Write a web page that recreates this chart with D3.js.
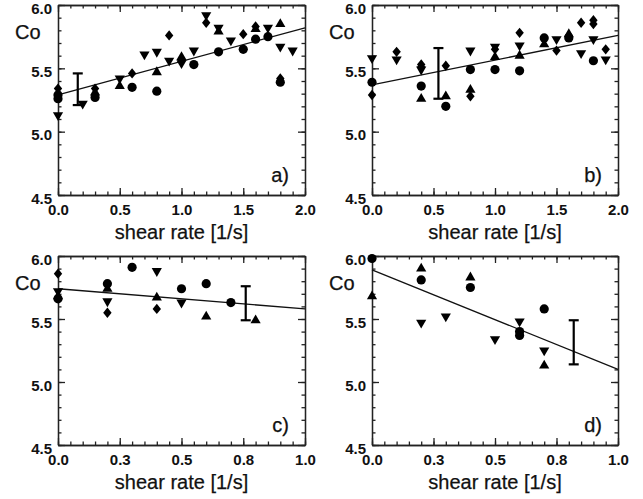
<!DOCTYPE html>
<html lang="en">
<head>
  <meta charset="UTF-8">
  <title>Co vs shear rate</title>
  <script src="https://d3js.org/d3.v7.min.js"></script>
  <style>
    body { margin: 0; background: #fff; }
    svg { display: block; }
    .axis path, .axis line { stroke: #222; stroke-width: 1.3; }
    .axis text { font-family: "Liberation Sans", Arial, sans-serif; font-size: 15px; font-weight: bold; fill: #111; }
    .lbl { font-family: "Liberation Sans", Arial, sans-serif; font-size: 20px; fill: #111; stroke: #111; stroke-width: 0.25; }
  </style>
</head>
<body>
  <svg width="643" height="499"></svg>
  <script>
    // ---- data ----
    const aCircle = [[0,5.29],[0,5.26],[0.3,5.27],[0.6,5.35],[0.8,5.32],[1.1,5.53],[1.3,5.63],[1.5,5.65],[1.6,5.73],[1.7,5.75],[1.8,5.39]];
    const aDiamond = [[0,5.34],[0.3,5.34],[0.6,5.46],[0.9,5.76],[1.0,5.56],[1.2,5.86],[1.5,5.77],[1.6,5.83],[1.8,5.42]];
    const aTriUp = [[0.3,5.31],[0.5,5.36],[0.8,5.47],[1.0,5.59],[1.3,5.79],[1.6,5.81],[1.8,5.85]];
    const aTriDown = [[0,5.13],[0.2,5.22],[0.5,5.42],[0.7,5.61],[0.8,5.63],[0.9,5.56],[1.0,5.54],[1.1,5.64],[1.2,5.92],[1.3,5.82],[1.4,5.72],[1.7,5.82],[1.8,5.67],[1.9,5.64]];
    const aErr = [0.16, 5.21, 5.46];
    const aFit = [[0,5.29],[2,5.82]];

    const bCircle = [[0,5.39],[0.4,5.36],[0.6,5.20],[0.8,5.49],[1.0,5.49],[1.2,5.48],[1.4,5.74],[1.6,5.74],[1.8,5.56]];
    const bDiamond = [[0,5.29],[0.2,5.63],[0.4,5.53],[0.4,5.51],[0.6,5.52],[0.8,5.28],[1.0,5.65],[1.2,5.78],[1.5,5.64],[1.6,5.76],[1.7,5.86],[1.8,5.88],[1.8,5.85],[1.9,5.65]];
    const bTriUp = [[0.4,5.26],[0.6,5.28],[0.8,5.33],[1.0,5.59],[1.2,5.60],[1.4,5.69],[1.6,5.77]];
    const bTriDown = [[0,5.58],[0.2,5.57],[0.4,5.49],[0.8,5.64],[1.0,5.67],[1.2,5.68],[1.5,5.73],[1.7,5.62],[1.8,5.73],[1.9,5.57]];
    const bErr = [0.54, 5.26, 5.66];
    const bFit = [[0,5.37],[2,5.76]];

    const cCircle = [[0,5.66],[0.2,5.78],[0.3,5.91],[0.5,5.74],[0.6,5.78],[0.7,5.63]];
    const cDiamond = [[0,5.86],[0.2,5.55],[0.4,5.58]];
    const cTriUp = [[0,5.68],[0.2,5.74],[0.4,5.67],[0.6,5.52],[0.8,5.49]];
    const cTriDown = [[0,5.72],[0.2,5.64],[0.4,5.88],[0.5,5.63]];
    const cErr = [0.76, 5.49, 5.76];
    const cFit = [[0,5.74],[1,5.58]];

    const dCircle = [[0,5.98],[0.2,5.81],[0.4,5.75],[0.6,5.40],[0.6,5.37],[0.7,5.58]];
    const dDiamond = [];
    const dTriUp = [[0,5.68],[0.2,5.90],[0.4,5.83],[0.7,5.13]];
    const dTriDown = [[0.2,5.47],[0.3,5.52],[0.5,5.34],[0.6,5.48],[0.7,5.25]];
    const dErr = [0.82, 5.14, 5.49];
    const dFit = [[0,5.89],[1,5.10]];

    const yTicks = [4.5, 5.0, 5.5, 6.0];
    const xTicksWide = [0, 0.5, 1.0, 1.5, 2.0];
    const xTicksNarrow = [0, 0.25, 0.5, 0.75, 1.0];

    const svg = d3.select("svg");

    // marker shapes
    const shapes = {
      circle: "M4.6,0A4.6,4.6,0,1,1,-4.6,0A4.6,4.6,0,1,1,4.6,0Z",
      diamond: "M0,-5.2L4.2,0L0,5.2L-4.2,0Z",
      up: "M0,-5.8L5.1,3L-5.1,3Z",
      down: "M0,5.8L5.1,-3L-5.1,-3Z"
    };

    function drawPanel(p) {
      const x = d3.scaleLinear().domain([0, p.xmax]).range([p.left, p.right]);
      const y = d3.scaleLinear().domain([4.5, 6.0]).range([p.bottom, p.top]);
      const g = svg.append("g");

      const xMinor = d3.range(0, p.xmax + 1e-9, p.xminor);
      const yMinor = d3.range(4.5, 6.0001, 0.1);

      // minor ticks on all four sides
      g.append("g").attr("class", "axis").attr("transform", `translate(0,${p.bottom})`)
        .call(d3.axisBottom(x).tickValues(xMinor).tickSize(-3.5).tickSizeOuter(0).tickFormat(""));
      g.append("g").attr("class", "axis").attr("transform", `translate(0,${p.top})`)
        .call(d3.axisTop(x).tickValues(xMinor).tickSize(-3.5).tickSizeOuter(0).tickFormat(""));
      g.append("g").attr("class", "axis").attr("transform", `translate(${p.left},0)`)
        .call(d3.axisLeft(y).tickValues(yMinor).tickSize(-3.5).tickSizeOuter(0).tickFormat(""));
      g.append("g").attr("class", "axis").attr("transform", `translate(${p.right},0)`)
        .call(d3.axisRight(y).tickValues(yMinor).tickSize(-3.5).tickSizeOuter(0).tickFormat(""));

      // major ticks + labels
      g.append("g").attr("class", "axis").attr("transform", `translate(0,${p.bottom})`)
        .call(d3.axisBottom(x).tickValues(p.xticks).tickSize(-7).tickSizeOuter(0).tickPadding(9)
          .tickFormat(d3.format(".1f")));
      g.append("g").attr("class", "axis").attr("transform", `translate(0,${p.top})`)
        .call(d3.axisTop(x).tickValues(p.xticks).tickSize(-7).tickSizeOuter(0).tickFormat(""));
      g.append("g").attr("class", "axis").attr("transform", `translate(${p.left},0)`)
        .call(d3.axisLeft(y).tickValues(yTicks).tickSize(-7).tickSizeOuter(0).tickPadding(6)
          .tickFormat(d3.format(".1f")))
        .selectAll("text").attr("dy", "0.55em");
      g.append("g").attr("class", "axis").attr("transform", `translate(${p.right},0)`)
        .call(d3.axisRight(y).tickValues(yTicks).tickSize(-7).tickSizeOuter(0).tickFormat(""));

      // fit line
      g.append("path")
        .datum(p.fit)
        .attr("fill", "none").attr("stroke", "#111").attr("stroke-width", 1.3)
        .attr("d", d3.line().x(d => x(d[0])).y(d => y(d[1])));

      // markers
      const sets = [["circle", p.circle], ["diamond", p.diamond], ["up", p.up], ["down", p.down]];
      sets.forEach(([shape, pts]) => {
        g.selectAll(null).data(pts).enter().append("path")
          .attr("d", shapes[shape])
          .attr("transform", d => `translate(${x(d[0])},${y(d[1])})`)
          .attr("fill", "#000");
      });

      // error bar
      const ex = x(p.err[0]);
      const eb = g.append("g").attr("stroke", "#000").attr("stroke-width", 2.2);
      eb.append("line").attr("x1", ex).attr("x2", ex).attr("y1", y(p.err[1])).attr("y2", y(p.err[2]));
      [p.err[1], p.err[2]].forEach(v => {
        eb.append("line").attr("x1", ex - 5).attr("x2", ex + 5).attr("y1", y(v)).attr("y2", y(v));
      });

      // texts
      g.append("text").attr("class", "lbl")
        .attr("x", p.left - 43).attr("y", p.top + 34).text("Co");
      g.append("text").attr("class", "lbl")
        .attr("x", (p.left + p.right) / 2).attr("y", p.bottom + 44)
        .attr("text-anchor", "middle").text("shear rate [1/s]");
      g.append("text").attr("class", "lbl")
        .attr("x", p.right - 16).attr("y", p.bottom - 13)
        .attr("text-anchor", "end").text(p.tag);
    }

    drawPanel({ left: 58, right: 305, top: 5, bottom: 195, xmax: 2, xminor: 0.1, xticks: xTicksWide,
      circle: aCircle, diamond: aDiamond, up: aTriUp, down: aTriDown, err: aErr, fit: aFit, tag: "a)" });
    drawPanel({ left: 372, right: 618, top: 5, bottom: 195, xmax: 2, xminor: 0.1, xticks: xTicksWide,
      circle: bCircle, diamond: bDiamond, up: bTriUp, down: bTriDown, err: bErr, fit: bFit, tag: "b)" });
    drawPanel({ left: 58, right: 305, top: 256, bottom: 445, xmax: 1, xminor: 0.05, xticks: xTicksNarrow,
      circle: cCircle, diamond: cDiamond, up: cTriUp, down: cTriDown, err: cErr, fit: cFit, tag: "c)" });
    drawPanel({ left: 372, right: 618, top: 256, bottom: 445, xmax: 1, xminor: 0.05, xticks: xTicksNarrow,
      circle: dCircle, diamond: dDiamond, up: dTriUp, down: dTriDown, err: dErr, fit: dFit, tag: "d)" });
  </script>
</body>
</html>
